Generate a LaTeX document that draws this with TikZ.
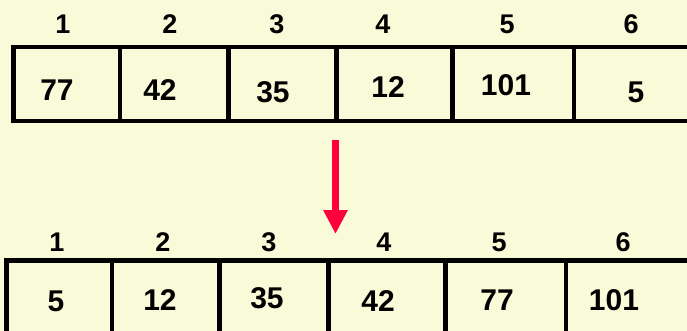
\documentclass[tikz,border=0pt]{standalone}
\usepackage{fontspec}
\setmainfont{Liberation Sans}
\usepackage{xcolor}
\usetikzlibrary{arrows.meta}
\definecolor{paper}{RGB}{249,250,215}
\definecolor{arrowred}{RGB}{255,0,60}
\tikzset{
  % one box of the array
  cellbox/.style={draw=black,line width=4.5pt,rectangle,inner sep=0pt,outer sep=0pt},
  % index above a box
  idx/.style={inner sep=0pt,font=\fontsize{27}{31}\selectfont\bfseries},
  % value inside a box
  val/.style={inner sep=0pt,font=\fontsize{30}{34}\selectfont\bfseries},
}

\begin{document}
\begin{tikzpicture}[x=1pt,y=-1pt]
\useasboundingbox (0,0) rectangle (687,331);
\fill[paper] (0,0) rectangle (687,331);
\clip (0,0) rectangle (687,331);

% array before
\node[cellbox,minimum width=106.5pt,minimum height=74pt] (a1) at (66.75,84) {};
\node[cellbox,minimum width=108.5pt,minimum height=74pt] (a2) at (174.25,84) {};
\node[cellbox,minimum width=108pt,minimum height=74pt] (a3) at (282.5,84) {};
\node[cellbox,minimum width=116pt,minimum height=74pt] (a4) at (394.5,84) {};
\node[cellbox,minimum width=121.5pt,minimum height=74pt] (a5) at (513.25,84) {};
\node[cellbox,minimum width=121pt,minimum height=74pt] (a6) at (634.5,84) {};

\node[idx] (ia1) at (63,24.5) {1};
\node[idx] (ia2) at (170,24.5) {2};
\node[idx] (ia3) at (277,24.5) {3};
\node[idx] (ia4) at (383,24.5) {4};
\node[idx] (ia5) at (507,24.5) {5};
\node[idx] (ia6) at (631,24.5) {6};

\node[val] (va1) at (57,90) {77};
\node[val] (va2) at (160,90) {42};
\node[val] (va3) at (273,92) {35};
\node[val] (va4) at (388,87.5) {12};
\node[val] (va5) at (506,85.5) {101};
\node[val] (va6) at (636,92.5) {5};

% array after
\node[cellbox,minimum width=105.5pt,minimum height=74.5pt] (b1) at (59.25,297.75) {};
\node[cellbox,minimum width=107.5pt,minimum height=74.5pt] (b2) at (165.75,297.75) {};
\node[cellbox,minimum width=109pt,minimum height=74.5pt] (b3) at (274,297.75) {};
\node[cellbox,minimum width=117pt,minimum height=74.5pt] (b4) at (387,297.75) {};
\node[cellbox,minimum width=120.5pt,minimum height=74.5pt] (b5) at (505.75,297.75) {};
\node[cellbox,minimum width=126pt,minimum height=74.5pt] (b6) at (629,297.75) {};

\node[idx] (ib1) at (57,242) {1};
\node[idx] (ib2) at (163,242) {2};
\node[idx] (ib3) at (269,242) {3};
\node[idx] (ib4) at (384,242) {4};
\node[idx] (ib5) at (499,242) {5};
\node[idx] (ib6) at (623,242) {6};

\node[val] (vb1) at (56,301) {5};
\node[val] (vb2) at (160,300) {12};
\node[val] (vb3) at (267,298) {35};
\node[val] (vb4) at (378,301) {42};
\node[val] (vb5) at (497,300) {77};
\node[val] (vb6) at (614,300) {101};

% sorting step
\coordinate (arrtop) at (335.5,140);
\coordinate (arrtip) at (335.5,234);
\draw[arrowred,line width=7.5pt,-{Triangle[length=24pt,width=23pt]}] (arrtop) -- (arrtip);

\end{tikzpicture}
\end{document}
